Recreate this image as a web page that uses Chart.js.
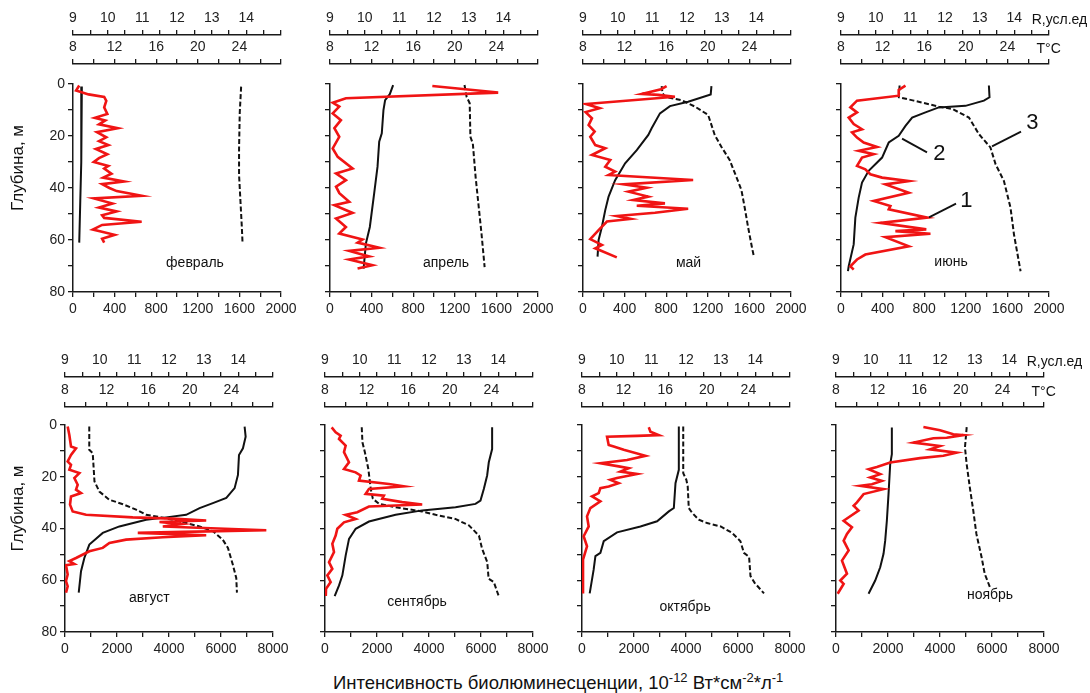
<!DOCTYPE html>
<html><head><meta charset="utf-8">
<script src="https://cdn.jsdelivr.net/npm/chart.js@4/dist/chart.umd.min.js"></script>
<style>
body{margin:0;background:#fff;width:1090px;height:693px;position:relative;overflow:hidden;font-family:"Liberation Sans",Arial,sans-serif;}
canvas{position:absolute;}
#xt{position:absolute;left:333px;top:668px;font-size:18.5px;line-height:20px;white-space:nowrap;color:#111;}
#xt sup{font-size:13px;}
</style></head><body>
<div id="xt">Интенсивность биолюминесценции, 10<sup>-12</sup> Вт*см<sup>-2</sup>*л<sup>-1</sup></div>
<script>
// ---------- DATA (depth in m; bioluminescence; T in °C; R in conventional units) ----------
const months = ['февраль','апрель','май','июнь','август','сентябрь','октябрь','ноябрь'];
const intensityMaxTop = 2000, intensityStepTop = 200;
const intensityMaxBottom = 8000, intensityStepBottom = 1000;
const tempRange = [8, 28], tempTickLabels = [8, 12, 16, 20, 24];
const rRange = [9, 15], rTickLabels = [9, 10, 11, 12, 13, 14];
const depthRange = [0, 80], depthTickLabels = [0, 20, 40, 60, 80];

// February
const febBioDepth = [0.6,2.5,4,5,6.5,9,11.5,13,14,15.5,17,18.5,20.5,22,23.5,25,27,28.5,30,31.5,32.5,34.5,36,37.5,38.5,40,41.2,43,44,46,47.5,49,50.5,51.5,53,54.2,56,58,59.5,61];
const febBio = [60,30,150,300,320,300,330,210,310,250,430,230,320,250,340,220,330,250,200,340,300,370,290,490,280,350,420,660,200,380,250,420,280,300,660,280,190,400,280,300];
const febTDepth = [1,15,30,45,61];
const febT = [8.85,8.82,8.77,8.7,8.6];
const febRDepth = [1,11,25,35,45,55,61];
const febR = [13.85,13.81,13.79,13.79,13.83,13.87,13.89];

// April
const aprBioDepth = [0.8,3.3,5.5,7.2,8.7,11.3,13.9,17,20.3,24.8,28,32.5,34.4,37,39.5,42,45.3,46.6,49.6,51.7,55,57.5,59.8,61,63,64.2,66.3,67.5,69.7,71];
const aprBio = [984,1617,153,26,89,26,105,42,89,26,74,217,58,153,58,90,185,42,217,58,153,89,313,265,473,185,377,185,409,265];
const aprTDepth = [0.4,3.9,6.2,10,19,22.2,31.8,42,55,61.4,71];
const aprT = [14.07,13.75,13.3,13.14,12.98,12.73,12.57,12.25,11.83,11.45,11.23];
const aprRDepth = [0.4,4.9,7.4,20.3,22.9,35.7,47.3,57.5,70.4];
const aprR = [12.88,12.94,13.03,13.05,13.12,13.2,13.29,13.37,13.46];

// May
const mayBioDepth = [0.8,2,3.8,4.2,4.9,7.7,9.3,10.8,13.2,15.8,18.3,20.3,23.5,24.7,27.3,29.2,31.8,33.7,35,36.9,38.6,39.9,41.4,43.3,44.6,45.9,46.8,48,49.5,50.8,51.9,52.9,56.2,59.7,61.9,63.2,66.7];
const mayBio = [804,750,565,724,884,29,160,25,86,54,112,70,118,214,86,262,214,309,246,1059,389,612,437,628,485,788,517,1011,692,325,459,230,150,70,182,118,325];
const mayTDepth = [0.8,4,6.8,8.5,11.3,17,19.6,25.4,30.5,37,43.3,48.5,54.9,60,66.4];
const mayT = [20.35,20.28,18.11,16.36,15.4,14.6,14.28,13.17,12.05,11.09,10.46,10.14,9.82,9.5,9.4];
const mayRDepth = [0.8,3.3,4.9,6.2,8.7,11.9,19.6,24.1,29.2,35.6,40.8,47.2,54.9,62.6,66.4];
const mayR = [11.27,11.29,11.36,11.84,12.23,12.61,12.8,12.99,13.23,13.42,13.57,13.66,13.76,13.87,13.93];

// June
const junBioDepth = [0.6,2.3,4.5,6.4,9,10.9,12.9,15.4,17.4,18.6,20.6,22.5,24.2,25.7,27,28.3,31.5,32.8,34.7,36,37.3,38.6,41.8,45,46.9,48.2,51.4,53.4,55.9,56.6,57.6,58.9,62.4,65.6,67.5,70.1,71.4];
const junBio = [620,555,555,154,90,154,74,122,202,106,154,218,347,170,315,202,154,234,282,395,652,427,652,315,475,459,830,379,820,523,860,427,652,234,154,90,122];
const junTDepth = [0.6,5.1,6.4,8.4,9,10.9,12.9,16.1,19.9,22.5,28.3,33.4,37.9,43.7,51.4,61.7,70.1,72];
const junT = [22.22,22.28,21.74,19.97,17.4,16.12,14.84,14.2,13.55,12.59,11.95,10.66,10.02,9.7,9.38,9.22,8.74,8.67];
const junRDepth = [0.6,5.1,6.4,8.7,9.6,12.9,19.3,24.4,30.9,37.3,47.6,57.9,72];
const junR = [10.69,10.67,11.1,11.82,12.21,12.69,12.98,13.31,13.46,13.7,13.89,13.99,14.18];

// August
const augBioDepth = [0.6,3.9,8.3,9,11.6,14.1,15.4,17.3,18.6,20.5,23.1,25,26.3,27.6,30.8,33.4,34.7,35.7,36.2,36.9,37.5,38.3,39.2,40.7,41.3,41.7,42.6,43.4,44.3,45.6,47.5,48.8,51.4,52.6,53.7,54.2,57.8,60.3,62.3,64.8];
const augBio = [103,167,231,424,231,103,231,167,552,360,488,424,616,231,193,295,809,2606,4147,5431,3634,4468,3762,7743,4533,2799,5431,3762,2350,1708,1451,937,424,167,360,39,103,39,103,39];
const augTDepth = [0.6,4.5,9,11.6,19.3,24.4,28.2,30.2,32.1,34.7,35.7,36.6,39.2,41.7,46.2,51.4,56.5,64.8];
const augT = [25.27,25.37,25.11,24.73,24.63,24.31,23.51,22.22,20.94,19.65,17.73,15.8,13.23,11.63,10.34,9.86,9.54,9.32];
const augRDepth = [0.6,9.6,10.9,21.8,25.7,28.9,30.6,32.7,34.7,35.6,37.2,39.2,41.1,44.3,47.5,53.9,59.1,64.8];
const augR = [9.7,9.7,9.8,9.85,9.99,10.28,10.67,11.05,11.34,11.73,12.3,12.88,13.27,13.55,13.7,13.84,13.94,13.96];

// September
const sepBioDepth = [0.9,2.8,4.1,5.4,8,10.5,14.4,17,18.3,19.5,21.5,22.8,23.7,24.7,26.6,27.3,28.5,29.8,30.7,31.5,33.7,34.7,36.3,37.6,40.1,42.7,45.9,49.1,53,55.6,58.1,60.7,63.3,66.1];
const sepBio = [256,410,602,538,794,730,922,730,1178,1370,1306,2458,3034,1690,1562,2266,2202,2970,3738,1690,1242,794,1178,730,474,410,282,346,154,282,90,218,40,30];
const sepTDepth = [0.9,9.3,14.4,19.5,24.7,29.2,30.5,31.8,33,34.7,37.3,40.1,44,50.4,58.1,62,66.1];
const sepT = [24.07,24.07,23.75,23.59,23.27,22.95,22.47,20.55,17.35,14.79,12.23,10.95,10.31,9.99,9.67,9.35,8.93];
const sepRDepth = [0.9,6.7,10.5,17,24.7,28.5,30.5,31.8,33.4,34.7,36.3,38.8,42.7,47.8,53,59.4,60.7,66.1];
const sepR = [10.06,10.08,10.15,10.25,10.32,10.38,10.56,11.04,11.8,12.19,12.76,13.15,13.44,13.53,13.68,13.72,13.87,14.01];

// October
const octBioDepth = [0.9,2.6,3.9,4.2,4.5,7.7,8.3,9.6,11.9,13.5,14.8,16,16.7,18,18.9,20.5,21.2,22.5,23.8,24.4,26.3,27.6,29.5,32.1,35.3,39.2,43,46.9,52,65.1];
const octBio = [2568,2632,2953,2119,963,1027,1220,1605,2440,1733,706,1412,1798,1477,2119,1348,1091,1412,1027,706,642,385,706,321,193,257,64,193,39,39];
const octTDepth = [0.6,17.3,22.5,32.1,33.4,37.2,39.2,41.5,44.9,49.4,50.7,55.9,65.1];
const octT = [17.31,17.31,16.99,16.83,16.35,15.22,13.62,11.37,10.09,9.77,9.29,9.12,8.74];
const octRDepth = [0.6,18.6,21.2,23.8,32.1,34,36.6,37.9,39.2,41.7,44.9,49.4,51,58.4,61,65.1];
const octR = [11.92,11.92,12.01,12.05,12.08,12.18,12.37,12.61,13,13.33,13.57,13.67,13.82,13.86,13.98,14.25];

// November
const novBioDepth = [0.8,2,3.6,3.9,4.9,5.1,6.8,8.1,9.4,10.7,11.9,12.8,14.5,16.2,17.1,19,20.3,21.6,22.9,23.5,24.8,26.7,29.9,31.2,33.1,37,39.5,42.1,44.7,48.5,52.4,57.5,60.1,61.4,65.2];
const novBio = [3361,4000,4511,4895,4256,3744,2978,4000,3617,4639,4128,3233,2083,1572,1252,1700,1316,1764,1380,933,1827,1061,805,677,869,294,613,422,294,486,230,422,166,294,64];
const novTDepth = [1,11.3,15.2,26.7,37,44.7,49.8,55,60.1,65.2];
const novT = [13.37,13.37,13.21,13.05,12.89,12.73,12.57,12.25,11.77,11.13];
const novRDepth = [0.8,8.7,15.2,24.1,33.1,42.1,51.1,57.5,62.7];
const novR = [12.77,12.72,12.77,12.86,12.96,13.05,13.2,13.29,13.44];

// month label anchors (intensity, depth)
const monthLabelAt = [[1173,69],[1115,69],[1015,69],[1058,68.6],[3245,66.8],[3538,68.5],[3965,70.4],[5923,65.8]];
// June curve labels: number, leader start, leader end, text anchor (intensity, depth)
const curveNums = ['1','2','3'];
const curveLeadFrom = [[846,51.3],[587,21],[1452,24]];
const curveLeadTo = [[1106,46],[827,26.3],[1731,18.3]];
const curveTextAt = [[1205,45],[945,27],[1840,15]];

// ---------- LAYOUT ----------
Chart.defaults.font.family = "'Liberation Sans', Arial, sans-serif";
Chart.defaults.font.size = 14;
Chart.defaults.color = '#222';
const RED = '#f01414', BLK = '#111', AX = '#1a1a1a';
const PW = 208;

const series = [
  [febBioDepth,febBio,febTDepth,febT,febRDepth,febR],
  [aprBioDepth,aprBio,aprTDepth,aprT,aprRDepth,aprR],
  [mayBioDepth,mayBio,mayTDepth,mayT,mayRDepth,mayR],
  [junBioDepth,junBio,junTDepth,junT,junRDepth,junR],
  [augBioDepth,augBio,augTDepth,augT,augRDepth,augR],
  [sepBioDepth,sepBio,sepTDepth,sepT,sepRDepth,sepR],
  [octBioDepth,octBio,octTDepth,octT,octRDepth,octR],
  [novBioDepth,novBio,novTDepth,novT,novRDepth,novR]
];
const layout = [
  {L:73, yW:73, rW:40, top:0, boxR:35, boxT:29, gap:20, H:208},
  {L:330, yW:20, rW:40, top:0, boxR:35, boxT:29, gap:20, H:208},
  {L:583, yW:20, rW:40, top:0, boxR:35, boxT:29, gap:20, H:208},
  {L:841, yW:20, rW:41, top:0, boxR:35, boxT:29, gap:20, H:208},
  {L:65, yW:65, rW:40, top:342, boxR:35, boxT:30, gap:18, H:207},
  {L:325, yW:20, rW:40, top:342, boxR:35, boxT:30, gap:18, H:207},
  {L:582, yW:20, rW:40, top:342, boxR:35, boxT:30, gap:18, H:207},
  {L:836, yW:20, rW:46, top:342, boxR:35, boxT:30, gap:18, H:207}
];

function fix(dim, size){ return s => { s[dim] = size; s.paddingLeft = 0; s.paddingRight = 0; s.paddingTop = 0; s.paddingBottom = 0; }; }
function pts(d, v){ return d.map((y,i) => ({x: v[i], y: y})); }
function axisStyle(){ return { grid:{display:true, drawOnChartArea:false, drawTicks:true, tickLength:5, color:AX, lineWidth:1.3}, border:{display:true, color:AX, width:1.5} }; }

function annot(i){
  return { id:'annot'+i, afterDraw(chart){
    const ctx = chart.ctx, sx = chart.scales.x, sy = chart.scales.y, ca = chart.chartArea;
    ctx.save();
    ctx.fillStyle = '#111';
    ctx.font = "14px 'Liberation Sans', Arial, sans-serif";
    ctx.textAlign = 'center'; ctx.textBaseline = 'middle';
    ctx.fillText(months[i], sx.getPixelForValue(monthLabelAt[i][0]), sy.getPixelForValue(monthLabelAt[i][1]));
    if (i === 0 || i === 4) {
      ctx.save();
      ctx.translate(18, (ca.top + ca.bottom) / 2 - 20);
      ctx.rotate(-Math.PI / 2);
      ctx.font = "17px 'Liberation Sans', Arial, sans-serif";
      ctx.fillText('Глубина, м', 0, 0);
      ctx.restore();
    }
    if (i === 3 || i === 7) {
      const xR = chart.scales.xR, xT = chart.scales.xT;
      ctx.textAlign = 'left';
      ctx.fillText('R,усл.ед', xR.getPixelForValue(14.5), xR.bottom - 15);
      ctx.fillText('T°C', xT.getPixelForValue(26.8), xT.bottom - 15);
    }
    if (i === 3) {
      ctx.strokeStyle = '#111'; ctx.lineWidth = 1.8;
      ctx.font = "22px 'Liberation Sans', Arial, sans-serif";
      ctx.textAlign = 'center';
      for (let k = 0; k < curveNums.length; k++) {
        ctx.beginPath();
        ctx.moveTo(sx.getPixelForValue(curveLeadFrom[k][0]), sy.getPixelForValue(curveLeadFrom[k][1]));
        ctx.lineTo(sx.getPixelForValue(curveLeadTo[k][0]), sy.getPixelForValue(curveLeadTo[k][1]));
        ctx.stroke();
        ctx.fillText(curveNums[k], sx.getPixelForValue(curveTextAt[k][0]), sy.getPixelForValue(curveTextAt[k][1]));
      }
    }
    ctx.restore();
  }};
}

layout.forEach((p, i) => {
  const bottomRow = i >= 4;
  const xmax = bottomRow ? intensityMaxBottom : intensityMaxTop;
  const xstep = bottomRow ? intensityStepBottom : intensityStepTop;
  const s = series[i];
  const cv = document.createElement('canvas');
  const left = p.L - p.yW, width = p.yW + PW + p.rW;
  const height = p.boxR + p.boxT + p.gap + p.H + 30;
  cv.width = width; cv.height = height;
  cv.style.left = left + 'px'; cv.style.top = p.top + 'px';
  cv.style.width = width + 'px'; cv.style.height = height + 'px';
  document.body.appendChild(cv);
  const showY = (i === 0 || i === 4);
  new Chart(cv, {
    type: 'scatter',
    data: { datasets: [
      { data: pts(s[0], s[1]), xAxisID:'x', yAxisID:'y', showLine:true, borderColor:RED, borderWidth:2.6, pointRadius:0, pointHoverRadius:0, tension:0, fill:false },
      { data: pts(s[2], s[3]), xAxisID:'xT', yAxisID:'y', showLine:true, borderColor:BLK, borderWidth:2, pointRadius:0, pointHoverRadius:0, tension:0, fill:false },
      { data: pts(s[4], s[5]), xAxisID:'xR', yAxisID:'y', showLine:true, borderColor:BLK, borderWidth:2, borderDash:[5,2.5], pointRadius:0, pointHoverRadius:0, tension:0, fill:false }
    ]},
    options: {
      responsive:false, animation:false, devicePixelRatio:1, events:[],
      layout:{padding:{left:0, top:0, bottom:0, right:p.rW}},
      plugins:{legend:{display:false}, tooltip:{enabled:false}},
      scales: {
        x: Object.assign({ type:'linear', position:'bottom', min:0, max:xmax, afterFit:fix('height',30),
             ticks:{stepSize:xstep, autoSkip:false, maxRotation:0, padding:4, callback: v => v % (2*xstep) === 0 ? String(v) : ''} }, axisStyle()),
        y: Object.assign({ type:'linear', position:'left', reverse:true, min:depthRange[0], max:depthRange[1], afterFit:fix('width',p.yW),
             ticks:{stepSize:10, autoSkip:false, padding:3, callback: v => (showY && depthTickLabels.includes(v)) ? String(v) : ''} }, axisStyle()),
        sp: { type:'linear', position:'top', weight:0, afterFit:fix('height',p.gap), grid:{display:false}, ticks:{display:false}, border:{display:false} },
        xT: Object.assign({ type:'linear', position:'top', weight:1, min:tempRange[0], max:tempRange[1], afterFit:fix('height',p.boxT),
             ticks:{stepSize:2, autoSkip:false, maxRotation:0, padding:3, callback: v => tempTickLabels.includes(v) ? String(v) : ''} }, axisStyle()),
        xR: Object.assign({ type:'linear', position:'top', weight:2, min:rRange[0], max:rRange[1], afterFit:fix('height',p.boxR),
             ticks:{stepSize:0.5, autoSkip:false, maxRotation:0, padding:3, callback: v => rTickLabels.includes(v) ? String(v) : ''} }, axisStyle())
      }
    },
    plugins:[annot(i)]
  });
});
</script>
</body></html>
